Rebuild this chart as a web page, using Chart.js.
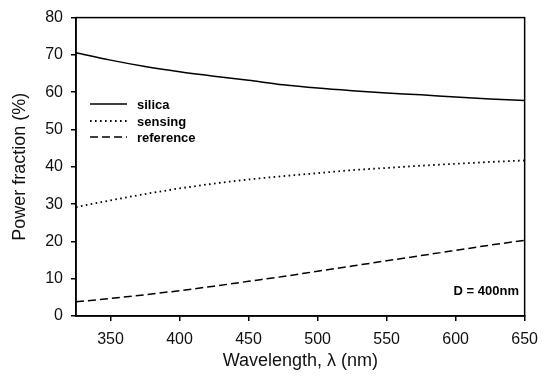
<!DOCTYPE html>
<html>
<head>
<meta charset="utf-8">
<script src="https://cdn.jsdelivr.net/npm/chart.js@4"></script>
<style>
html,body{margin:0;padding:0;background:#fff;}
#wrap{width:547px;height:380px;position:relative;}
</style>
</head>
<body>
<div id="wrap"><canvas id="chart" width="547" height="380"></canvas></div>
<script>
// wavelength (nm)
let wavelength=[325,350,375,400,425,450,475,500,525,550,575,600,625,650]

// power fraction (%)
let silica=[70.6,68.6,66.9,65.5,64.3,63.2,62.0,61.1,60.4,59.8,59.3,58.7,58.2,57.8]
let sensing=[29.2,31.0,32.7,34.2,35.5,36.6,37.5,38.3,39.1,39.7,40.3,40.8,41.3,41.7]
let reference=[3.8,4.7,5.7,6.8,8.0,9.3,10.6,12.0,13.4,14.8,16.2,17.6,19.0,20.3]

let seriesNames=["silica","sensing","reference"]
let xTicks=[350,400,450,500,550,600,650]
let yTicks=[0,10,20,30,40,50,60,70,80]
let note="D = 400nm"

let font="'Liberation Sans', Arial, sans-serif"

function pts(values){
return wavelength.map(function(w,i){return {x:w,y:values[i]}})
}

let dashes=[[],[1.6,3.4],[8,4]]
let widths=[1.5,1.8,1.5]

// frame, inner legend and the D label
let extras={
id:"extras",
afterDraw(c){
let ctx=c.ctx
let a=c.chartArea
ctx.save()
ctx.strokeStyle="#000"
ctx.lineWidth=1.5
ctx.strokeRect(a.left,a.top,a.right-a.left,a.bottom-a.top)

ctx.font="bold 13px "+font
ctx.fillStyle="#000"
ctx.textBaseline="middle"
let ys=[104,121,137]
c.data.datasets.forEach(function(ds,i){
ctx.setLineDash(dashes[i])
ctx.lineWidth=widths[i]
ctx.beginPath()
ctx.moveTo(90,ys[i])
ctx.lineTo(127,ys[i])
ctx.stroke()
ctx.setLineDash([])
ctx.fillText(ds.label,137,ys[i]+1)
})

ctx.textAlign="right"
ctx.fillText(note,519,291)
ctx.restore()
}
}

let datasets=[silica,sensing,reference].map(function(v,i){
return {
label:seriesNames[i],
data:pts(v),
borderColor:"#000",
borderWidth:widths[i],
borderDash:dashes[i],
pointRadius:0,
tension:0.4,
cubicInterpolationMode:"monotone",
fill:false
}
})

let chart=new Chart(document.getElementById("chart").getContext("2d"),{
type:"line",
data:{datasets:datasets},
options:{
responsive:false,
animation:false,
layout:{padding:{left:0,top:16,right:19,bottom:8}},
plugins:{legend:{display:false},tooltip:{enabled:false}},
scales:{
x:{
type:"linear",
min:325,max:650,
afterBuildTicks(s){s.ticks=xTicks.map(function(v){return {value:v}})},
afterFit(s){s.height=56},
grid:{drawOnChartArea:false,drawTicks:true,tickLength:5,color:"#000",lineWidth:1.5},
border:{color:"#000",width:1.5},
ticks:{color:"#111",font:{family:font,size:16},padding:9,maxRotation:0},
title:{display:true,text:"Wavelength, λ (nm)",color:"#111",font:{family:font,size:18},padding:{top:2,bottom:0}}
},
y:{
min:0,max:80,
afterBuildTicks(s){s.ticks=yTicks.map(function(v){return {value:v}})},
afterFit(s){s.width=76},
grid:{drawOnChartArea:false,drawTicks:true,tickLength:5,color:"#000",lineWidth:1.5},
border:{color:"#000",width:1.5},
ticks:{color:"#111",font:{family:font,size:16},padding:8},
title:{display:true,text:"Power fraction (%)",color:"#111",font:{family:font,size:18},padding:{top:9,bottom:0}}
}
}
},
plugins:[extras]
})
</script>
</body>
</html>
